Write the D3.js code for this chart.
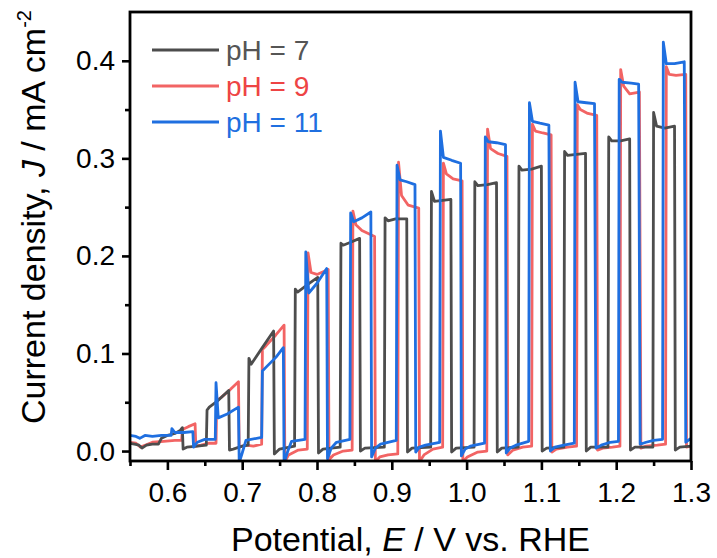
<!DOCTYPE html>
<html>
<head>
<meta charset="utf-8">
<script src="https://cdn.jsdelivr.net/npm/d3@7"></script>
<style>
  html, body { margin: 0; padding: 0; background: #fff; }
  svg { display: block; }
  text { font-family: Arial, "Liberation Sans", sans-serif; fill: #000; }
</style>
</head>
<body>
<svg id="chart" width="717" height="558"></svg>
<script>
// Chopped-light linear sweep: photocurrent density J (mA cm^-2) vs potential E (V vs. RHE)
// Each series is a list of [E, J] vertices.

const seriesNames = ["pH = 7", "pH = 9", "pH = 11"];

const ph7 = [
  [0.550,0.008],[0.556,0.007],[0.562,0.006],[0.566,0.003],[0.572,0.006],[0.580,0.007],[0.588,0.007],
  [0.592,0.013],[0.600,0.016],[0.610,0.018],[0.617,0.021],[0.620,0.024],[0.621,0.002],[0.626,0.004],[0.640,0.005],[0.652,0.006],
  [0.653,0.042],[0.656,0.045],[0.668,0.052],[0.682,0.062],[0.683,0.001],[0.688,0.002],[0.700,0.005],[0.708,0.006],
  [0.709,0.095],[0.712,0.089],[0.726,0.105],[0.742,0.123],[0.743,-0.003],[0.750,0.002],[0.770,0.005],
  [0.771,0.166],[0.774,0.163],[0.790,0.172],[0.801,0.178],[0.802,-0.002],[0.808,0.002],[0.831,0.004],
  [0.832,0.213],[0.835,0.211],[0.845,0.214],[0.857,0.218],[0.858,0.000],[0.864,0.003],[0.890,0.004],
  [0.891,0.239],[0.895,0.236],[0.905,0.238],[0.920,0.238],[0.921,-0.001],[0.927,0.003],[0.952,0.004],
  [0.953,0.266],[0.957,0.256],[0.968,0.257],[0.979,0.258],[0.980,-0.001],[0.986,0.003],[1.010,0.004],
  [1.011,0.276],[1.015,0.272],[1.028,0.273],[1.040,0.275],[1.041,-0.001],[1.047,0.003],[1.069,0.004],
  [1.070,0.292],[1.074,0.288],[1.087,0.289],[1.100,0.292],[1.101,0.000],[1.107,0.003],[1.130,0.004],
  [1.131,0.307],[1.135,0.303],[1.147,0.304],[1.159,0.305],[1.160,0.000],[1.166,0.004],[1.189,0.004],
  [1.190,0.322],[1.194,0.318],[1.206,0.318],[1.218,0.320],[1.219,0.001],[1.225,0.004],[1.249,0.004],
  [1.250,0.347],[1.254,0.333],[1.265,0.331],[1.278,0.333],[1.279,0.001],[1.285,0.004],[1.300,0.005]
];

const ph9 = [
  [0.550,0.009],[0.558,0.008],[0.564,0.004],[0.570,0.006],[0.580,0.009],[0.595,0.010],[0.610,0.011],[0.619,0.011],
  [0.620,0.022],[0.628,0.025],[0.637,0.028],[0.638,0.005],[0.645,0.006],[0.655,0.008],[0.665,0.008],
  [0.666,0.052],[0.672,0.055],[0.684,0.063],[0.695,0.071],[0.696,0.004],[0.705,0.006],[0.715,0.005],[0.726,0.007],
  [0.727,0.104],[0.732,0.108],[0.745,0.119],[0.756,0.129],[0.757,-0.011],[0.762,-0.004],[0.775,0.001],[0.787,0.002],
  [0.788,0.203],[0.792,0.183],[0.800,0.181],[0.815,0.186],[0.816,-0.009],[0.822,-0.004],[0.835,0.000],[0.847,0.001],
  [0.848,0.246],[0.852,0.232],[0.860,0.226],[0.877,0.220],[0.878,-0.011],[0.884,-0.006],[0.895,-0.004],[0.908,-0.003],
  [0.909,0.296],[0.913,0.262],[0.922,0.252],[0.936,0.249],[0.937,-0.011],[0.943,-0.004],[0.955,0.002],[0.968,0.004],
  [0.969,0.295],[0.973,0.284],[0.982,0.279],[0.994,0.277],[0.995,-0.011],[1.001,-0.006],[1.015,-0.001],[1.027,0.000],
  [1.028,0.330],[1.032,0.310],[1.042,0.305],[1.054,0.302],[1.055,-0.004],[1.062,0.001],[1.075,0.004],[1.087,0.005],
  [1.088,0.335],[1.092,0.328],[1.102,0.326],[1.113,0.324],[1.114,-0.001],[1.120,0.002],[1.135,0.004],[1.147,0.005],
  [1.148,0.355],[1.152,0.350],[1.162,0.346],[1.174,0.344],[1.175,0.001],[1.182,0.003],[1.195,0.004],[1.205,0.005],
  [1.206,0.391],[1.210,0.374],[1.218,0.366],[1.231,0.368],[1.233,0.003],[1.240,0.005],[1.255,0.006],[1.266,0.007],
  [1.267,0.394],[1.271,0.386],[1.280,0.385],[1.293,0.386],[1.294,0.004],[1.300,0.005]
];

const ph11 = [
  [0.550,0.016],[0.558,0.015],[0.563,0.013],[0.570,0.016],[0.580,0.015],[0.592,0.016],[0.605,0.016],
  [0.606,0.023],[0.610,0.019],[0.622,0.019],[0.634,0.020],[0.635,0.004],[0.640,0.009],[0.650,0.012],[0.664,0.012],
  [0.665,0.070],[0.668,0.034],[0.680,0.038],[0.695,0.045],[0.696,-0.012],[0.700,-0.002],[0.705,0.011],[0.726,0.014],
  [0.727,0.082],[0.732,0.086],[0.745,0.096],[0.755,0.106],[0.756,-0.012],[0.761,0.000],[0.766,0.010],[0.784,0.012],
  [0.785,0.204],[0.789,0.162],[0.800,0.172],[0.813,0.187],[0.814,-0.008],[0.819,0.003],[0.826,0.009],[0.844,0.012],
  [0.845,0.244],[0.849,0.235],[0.860,0.239],[0.872,0.245],[0.873,-0.006],[0.878,0.003],[0.885,0.007],[0.906,0.011],
  [0.907,0.293],[0.911,0.278],[0.920,0.276],[0.931,0.273],[0.932,-0.001],[0.937,0.004],[0.945,0.006],[0.964,0.009],
  [0.965,0.328],[0.969,0.301],[0.980,0.298],[0.992,0.295],[0.993,-0.005],[0.998,0.002],[1.005,0.005],[1.024,0.008],
  [1.025,0.322],[1.029,0.317],[1.040,0.316],[1.052,0.314],[1.053,-0.002],[1.058,0.003],[1.066,0.006],[1.083,0.010],
  [1.084,0.357],[1.088,0.338],[1.098,0.336],[1.110,0.334],[1.112,0.000],[1.118,0.004],[1.130,0.006],[1.144,0.008],
  [1.145,0.378],[1.149,0.358],[1.160,0.357],[1.171,0.356],[1.173,0.003],[1.180,0.006],[1.192,0.009],[1.203,0.010],
  [1.204,0.381],[1.208,0.378],[1.220,0.377],[1.230,0.376],[1.232,0.007],[1.240,0.009],[1.250,0.011],[1.262,0.012],
  [1.263,0.419],[1.267,0.397],[1.278,0.397],[1.291,0.399],[1.293,0.009],[1.298,0.012],[1.300,0.013]
];

const xTicks = [0.6, 0.7, 0.8, 0.9, 1.0, 1.1, 1.2, 1.3];
const xMinorTicks = [0.55, 0.65, 0.75, 0.85, 0.95, 1.05, 1.15, 1.25];
const yTicks = [0.0, 0.1, 0.2, 0.3, 0.4];
const yMinorTicks = [0.05, 0.15, 0.25, 0.35];

const colors = ["#4d4d4d", "#f26464", "#1f6fe0"];
const labelColors = ["#555555", "#ee4444", "#1f6fe0"];

const plot = { left: 130, top: 12, right: 691, bottom: 461 };

const svg = d3.select("#chart");

const x = d3.scaleLinear().domain([0.55, 1.30]).range([plot.left, plot.right]);
const y = d3.scaleLinear().domain([-0.0102, 0.45]).range([plot.bottom, plot.top]);

svg.append("defs").append("clipPath").attr("id", "plotClip")
  .append("rect")
  .attr("x", plot.left).attr("y", plot.top)
  .attr("width", plot.right - plot.left).attr("height", plot.bottom - plot.top);

// curves: red underneath, then gray, blue on top
const line = d3.line().x(d => x(d[0])).y(d => y(d[1]));
const series = [ph7, ph9, ph11];
const drawOrder = [1, 0, 2];
const curves = svg.append("g").attr("clip-path", "url(#plotClip)");
drawOrder.forEach(i => {
  curves.append("path")
    .datum(series[i])
    .attr("d", line)
    .attr("fill", "none")
    .attr("stroke", colors[i])
    .attr("stroke-width", 2.8)
    .attr("stroke-linejoin", "round")
    .attr("stroke-linecap", "round");
});

// axes
const fmt = d3.format(".1f");
const xAxis = svg.append("g").attr("transform", `translate(0,${plot.bottom})`)
  .call(d3.axisBottom(x).tickValues(xTicks).tickFormat(fmt).tickSize(9).tickPadding(12));
const xMinor = svg.append("g").attr("transform", `translate(0,${plot.bottom})`)
  .call(d3.axisBottom(x).tickValues(xMinorTicks).tickFormat("").tickSize(5));
const yAxis = svg.append("g").attr("transform", `translate(${plot.left},0)`)
  .call(d3.axisLeft(y).tickValues(yTicks).tickFormat(fmt).tickSize(8).tickPadding(7));
const yMinor = svg.append("g").attr("transform", `translate(${plot.left},0)`)
  .call(d3.axisLeft(y).tickValues(yMinorTicks).tickFormat("").tickSize(5));

[xAxis, xMinor, yAxis, yMinor].forEach(g => {
  g.select(".domain").remove();
  g.selectAll(".tick line").attr("stroke", "#000").attr("stroke-width", 2.6);
  g.selectAll(".tick text").attr("font-size", 28).attr("fill", "#000")
    .attr("font-family", 'Arial, "Liberation Sans", sans-serif');
});

// frame
svg.append("rect")
  .attr("x", plot.left).attr("y", plot.top)
  .attr("width", plot.right - plot.left).attr("height", plot.bottom - plot.top)
  .attr("fill", "none").attr("stroke", "#000").attr("stroke-width", 2.8);

// axis titles
const xt = svg.append("text")
  .attr("x", (plot.left + plot.right) / 2).attr("y", 551)
  .attr("text-anchor", "middle").attr("font-size", 34);
xt.append("tspan").text("Potential, ");
xt.append("tspan").attr("font-style", "italic").text("E");
xt.append("tspan").text(" / V vs. RHE");

const yt = svg.append("text")
  .attr("transform", "translate(45,424) rotate(-90)")
  .attr("text-anchor", "start").attr("font-size", 34);
yt.append("tspan").text("Current density, ");
yt.append("tspan").attr("font-style", "italic").text("J");
yt.append("tspan").text(" / mA cm");
yt.append("tspan").attr("font-size", 20).attr("dy", -14).text("-2");

// legend
const legend = svg.append("g");
seriesNames.forEach((name, i) => {
  const ly = 50 + i * 36;
  legend.append("line")
    .attr("x1", 152).attr("x2", 219).attr("y1", ly).attr("y2", ly)
    .attr("stroke", colors[i]).attr("stroke-width", 3);
  legend.append("text")
    .attr("x", 226).attr("y", ly + 10)
    .attr("font-size", 28).style("fill", labelColors[i])
    .text(name);
});
</script>
</body>
</html>
